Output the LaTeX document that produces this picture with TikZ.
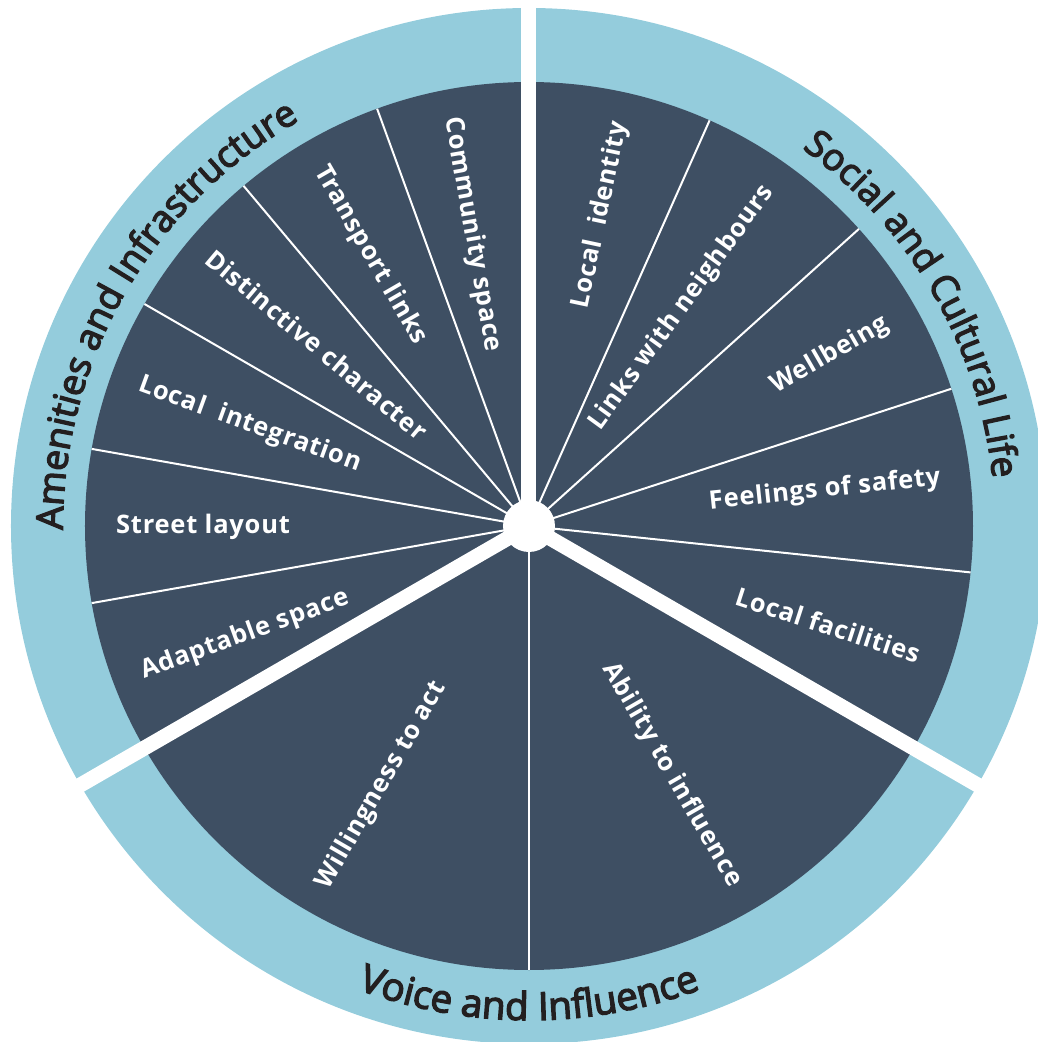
\documentclass[tikz,border=0pt]{standalone}
\usepackage{fontspec}
\setmainfont{Open Sans}
\newfontfamily\wedgefam[LetterSpace=3]{Open Sans}
\newfontfamily\ringfam[FakeBold=3.5]{Open Sans}
\usepackage{tikz}
\usetikzlibrary{decorations.text}
\definecolor{wheeldark}{HTML}{3E4F63}
\definecolor{wheelring}{HTML}{94CCDC}
\definecolor{ringtext}{HTML}{231F20}
\newcommand\ringfont{\ringfam\fontsize{37}{40}\selectfont}
\newcommand\ringfontbig{\ringfam\fontsize{38.5}{40}\selectfont}
\tikzset{
	%Define style for the wedge labels
	wedge/.style={
	       text=white,
	       font=\wedgefam\fontsize{25.5}{30}\selectfont\bfseries,
	       inner sep=0pt},
	%Define style for the thin dividers
	divider/.style={
	       white,
	       line width=2pt},
	%Define style for the gaps between the parts
	gap/.style={
	       white,
	       line width=15pt},
	% text along the outer ring
	ringlabel/.style={
	       decorate,
	       decoration={text along path,
	                   text align=center,
	                   text color=ringtext,
	                   text={#1}}}
}

\begin{document}
\begin{tikzpicture}
		\useasboundingbox (-529pt,-516pt) rectangle (508pt,526pt);
		\coordinate (hub) at (0,0);
		\fill[wheelring] (hub) circle (518pt);
		\fill[wheeldark] (hub) circle (444pt);
		\foreach \a in {66,42,18,-6,-90,110,130,150,170,190}
			\draw[divider] (hub) -- (\a:444pt);
		\foreach \a in {90,-30,210}
			\draw[gap] (hub) -- (\a:522pt);
		\fill[white] (hub) circle (26pt);
		% ring titles
		\path[ringlabel={|\ringfont|Amenities and Infrastructure}] (210:466pt) arc[start angle=210, end angle=90, radius=466pt];
		\path[ringlabel={|\ringfont|Social and Cultural Life}] (90:466pt) arc[start angle=90, end angle=-30, radius=466pt];
		\path[ringlabel={|\ringfontbig|Voice and Influence}] (-150:494pt) arc[start angle=-150, end angle=-30, radius=494pt];
		% Social and Cultural Life
		\node[wedge, rotate=78](local_identity) at (77:319pt){Local\ \ identity};
		\node[wedge, rotate=54](links_neighbours) at (55:266pt){Links with neighbours};
		\node[wedge, rotate=30](wellbeing) at (29.6:346pt){Wellbeing};
		\node[wedge, rotate=6](safety) at (6.9:298pt){Feelings of safety};
		\node[wedge, rotate=-18](facilities) at (-18.3:315pt){Local facilities};
		% Voice and Influence
		\node[wedge, rotate=-60](ability) at (-60.1:287pt){Ability to influence};
		\node[wedge, rotate=60](willingness) at (-119.6:298pt){Willingness to act};
		% Amenities and Infrastructure
		\node[wedge, rotate=20](adaptable) at (201:304pt){Adaptable space};
		\node[wedge, rotate=0](street) at (180.2:326pt){Street layout};
		\node[wedge, rotate=-20](integration) at (160.1:297pt){Local\ \ integration};
		\node[wedge, rotate=-40](distinctive) at (139.5:279pt){Distinctive character};
		\node[wedge, rotate=-60](transport) at (120.4:314pt){Transport links};
		\node[wedge, rotate=-80](community) at (101:297pt){Community space};
	\end{tikzpicture}
\end{document}
